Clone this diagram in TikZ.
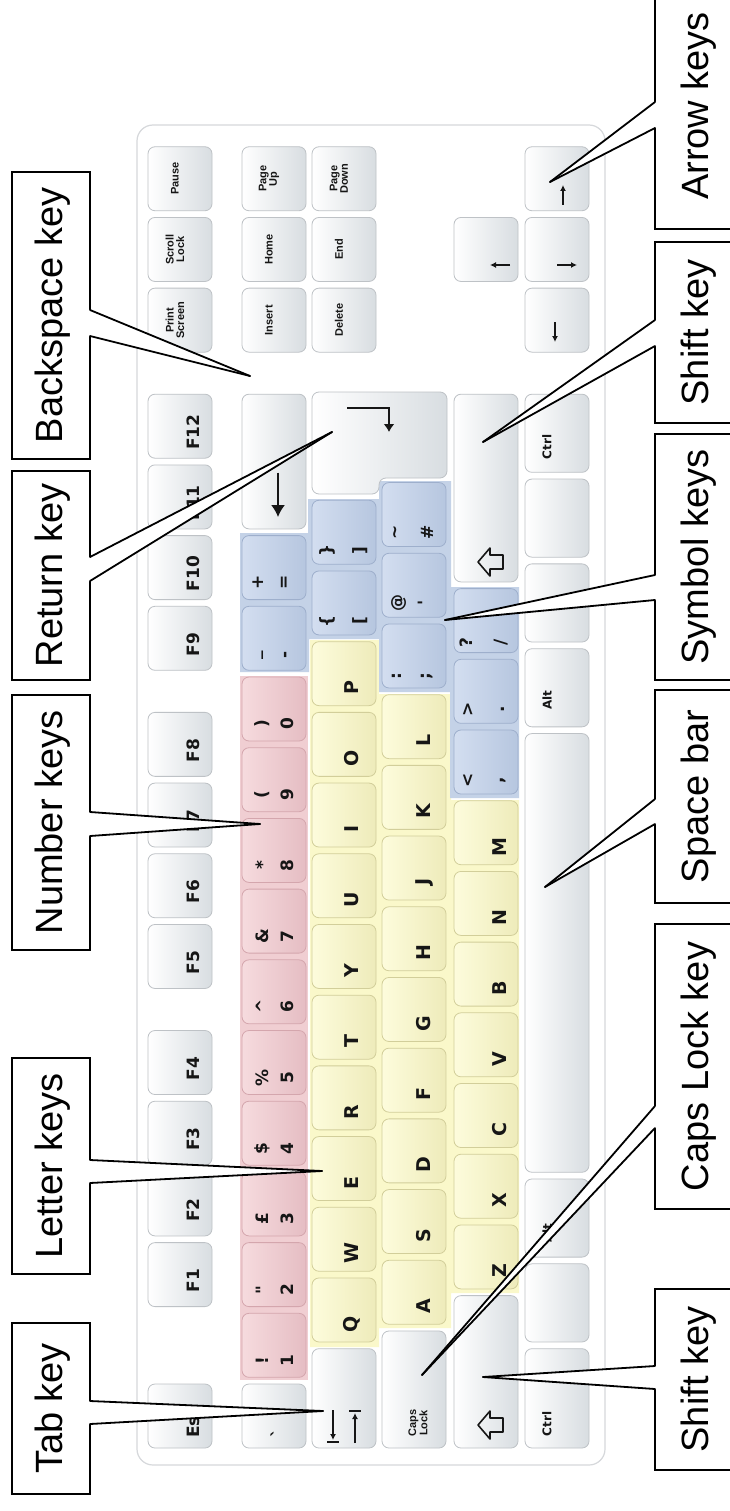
\documentclass[tikz,border=0pt]{standalone}
\usepackage{fontspec}
\setmainfont{Liberation Sans}
\newfontfamily\keyfont{DejaVu Sans}
\usetikzlibrary{arrows.meta}
\definecolor{keyborder}{RGB}{190,194,198}
\definecolor{keygray}{RGB}{216,221,225}
\definecolor{pinkbg}{RGB}{240,206,210}
\definecolor{pinkL}{RGB}{246,219,222}
\definecolor{pinkR}{RGB}{229,189,195}
\definecolor{pinkborder}{RGB}{212,166,173}
\definecolor{yellowbg}{RGB}{250,248,202}
\definecolor{yellowL}{RGB}{253,252,220}
\definecolor{yellowR}{RGB}{238,235,186}
\definecolor{yellowborder}{RGB}{210,206,154}
\definecolor{bluebg}{RGB}{196,210,231}
\definecolor{blueL}{RGB}{211,222,240}
\definecolor{blueR}{RGB}{182,198,223}
\definecolor{blueborder}{RGB}{158,175,204}
\definecolor{kbline}{RGB}{214,216,219}
\definecolor{keytext}{RGB}{22,22,22}
% key: name, row-left x, unit position, width in units, style
\newcommand\K[5]{%
  \pgfmathsetmacro\kcy{1451.35-70.7*(#3+#4/2)}%
  \pgfmathsetmacro\kh{70.7*#4-6.7}%
  \node[#5, minimum height=\kh pt] (#1) at (#2+32,\kcy) {};}
\newcommand\FK[3]{\K{#1}{148}{#2}{1}{kW}\node[flab] (#1t) at (193,\kcy+6) {#3};}
\newcommand\NV[4]{\K{#1}{#2}{#3}{1}{kW}\node[navlab] (#1t) at (#2+27,\kcy) {#4};}
\newcommand\LK[6]{\K{#1}{#2}{#3}{1}{#5}\pgfmathsetmacro\ky{1448-70.7*#3-18}\node[letlab] (#1t) at (#2+#6,\ky) {#4};}
\newcommand\TK[9]{\K{#1}{#2}{#3}{1}{#9}\pgfmathsetmacro\ky{1448-70.7*#3-#8}\node[symlab] (#1a) at (#2+#6,\ky) {#4};\node[symlab] (#1b) at (#2+#7,\ky) {#5};}
\newcommand\calloutwedge[4]{%
  \fill[white] (#1) -- (#3) -- (#2) -- ([xshift=#4]#2) -- ([xshift=#4]#1) -- cycle;
  \draw[cline] (#1) -- (#3);
  \draw[cline] (#2) -- (#3);}
\newcommand\shifticon[2]{\draw[icon] (#1-12,#2) -- (#1,#2-14) -- (#1,#2-7) -- (#1+13,#2-7) -- (#1+13,#2+7) -- (#1,#2+7) -- (#1,#2+14) -- cycle;}
\begin{document}
\begin{tikzpicture}[x=1pt,y=-1pt,
  kbase/.style={rounded corners=7pt, minimum width=64pt, inner sep=0pt, line width=0.8pt},
  kW/.style={kbase, draw=keyborder, left color=white, right color=keygray},
  kP/.style={kbase, draw=pinkborder, left color=pinkL, right color=pinkR},
  kY/.style={kbase, draw=yellowborder, left color=yellowL, right color=yellowR},
  kB/.style={kbase, draw=blueborder, left color=blueL, right color=blueR},
  klab/.style={rotate=90, inner sep=0pt, text=keytext, font=\keyfont\bfseries\fontsize{17}{17}\selectfont},
  flab/.style={klab},
  letlab/.style={klab, font=\keyfont\bfseries\fontsize{19}{19}\selectfont},
  symlab/.style={klab, font=\keyfont\bfseries\fontsize{17}{17}\selectfont},
  navlab/.style={klab, align=center, font=\bfseries\fontsize{11}{10.5}\selectfont},
  capslab/.style={klab, align=center, font=\bfseries\fontsize{11}{9}\selectfont},
  modlab/.style={klab, font=\keyfont\bfseries\fontsize{12}{12}\selectfont},
  icon/.style={line width=1.6pt, draw=keytext, line join=round},
  arr/.style={line width=1.5pt, draw=keytext, -{Latex[length=6pt,width=6pt]}},
  lbox/.style={draw=black, line width=1.8pt, fill=white, inner sep=0pt, minimum width=78pt},
  rbox/.style={draw=black, line width=1.8pt, fill=white, inner sep=0pt, minimum width=90pt},
  ltext/.style={rotate=90, anchor=base, inner sep=0pt, font=\fontsize{38}{38}\selectfont},
  cline/.style={line width=1.8pt, draw=black, line cap=round},
]
\useasboundingbox (0,0) rectangle (730,1511);
\fill[white] (0,0) rectangle (730,1511);
% keyboard body
\draw[kbline, line width=1.2pt, fill=white, rounded corners=16pt] (137,125) rectangle (605,1465);
% coloured groups
\fill[pinkbg] (240,676) rectangle (308,1380);
\fill[yellowbg] (310,640) rectangle (379,1347) (378,694) rectangle (451,1328) (450,800) rectangle (519,1293);
\fill[bluebg] (240,533) rectangle (309,672) (308,499) rectangle (380,639) (379,481) rectangle (451,692) (450,587) rectangle (519,798);
% function row
\FK{kEsc}{0}{Esc}
\FK{kF1}{2}{F1}\FK{kF2}{3}{F2}\FK{kF3}{4}{F3}\FK{kF4}{5}{F4}
\FK{kF5}{6.5}{F5}\FK{kF6}{7.5}{F6}\FK{kF7}{8.5}{F7}\FK{kF8}{9.5}{F8}
\FK{kF9}{11}{F9}\FK{kF10}{12}{F10}\FK{kF11}{13}{F11}\FK{kF12}{14}{F12}
\NV{kPrt}{148}{15.5}{Print\\Screen}\NV{kScr}{148}{16.5}{Scroll\\Lock}\NV{kPau}{148}{17.5}{Pause}
% number row
\K{kGrave}{242}{0}{1}{kW}\node[symlab] (kGravet) at (278,1433) {\textasciigrave};
\TK{k1}{242}{1}{!}{1}{20}{45}{17}{kP}
\TK{k2}{242}{2}{"}{2}{20}{45}{17}{kP}
\TK{k3}{242}{3}{£}{3}{20}{45}{17}{kP}
\TK{k4}{242}{4}{\$}{4}{20}{45}{17}{kP}
\TK{k5}{242}{5}{\%}{5}{20}{45}{17}{kP}
\TK{k6}{242}{6}{\textasciicircum}{6}{20}{45}{17}{kP}
\TK{k7}{242}{7}{\&}{7}{20}{45}{17}{kP}
\TK{k8}{242}{8}{*}{8}{20}{45}{17}{kP}
\TK{k9}{242}{9}{(}{9}{20}{45}{17}{kP}
\TK{k0}{242}{10}{)}{0}{20}{45}{17}{kP}
\TK{kMinus}{242}{11}{\_}{-}{20}{45}{15}{kB}
\TK{kEq}{242}{12}{+}{=}{16}{43}{17}{kB}
\K{kBack}{242}{13}{2}{kW}
\draw[line width=1.6pt, draw=keytext, -{Latex[length=12pt,width=14pt]}] (kBack.center) ++(4,11) -- (278,517);
\NV{kIns}{242}{15.5}{Insert}\NV{kHome}{242}{16.5}{Home}\NV{kPgUp}{242}{17.5}{Page\\Up}
% qwerty row
\K{kTab}{312}{0}{1.5}{kW}
\draw[line width=1.3pt, draw=keytext, -{Latex[length=6pt,width=6pt]}] (333,1410) -- (333,1440);
\draw[line width=1.3pt, draw=keytext] (327,1442) -- (339,1442);
\draw[line width=1.3pt, draw=keytext, -{Latex[length=6pt,width=6pt]}] (355,1443) -- (355,1413);
\draw[line width=1.3pt, draw=keytext] (349,1411) -- (361,1411);
\LK{kQ}{312}{1.5}{Q}{kY}{40}\LK{kW}{312}{2.5}{W}{kY}{40}\LK{kE}{312}{3.5}{E}{kY}{40}
\LK{kR}{312}{4.5}{R}{kY}{40}\LK{kT}{312}{5.5}{T}{kY}{40}\LK{kYy}{312}{6.5}{Y}{kY}{40}
\LK{kU}{312}{7.5}{U}{kY}{40}\LK{kI}{312}{8.5}{I}{kY}{40}\LK{kO}{312}{9.5}{O}{kY}{40}
\LK{kPp}{312}{10.5}{P}{kY}{40}
\TK{kLbr}{312}{11.5}{\{}{[}{15}{48}{14}{kB}
\TK{kRbr}{312}{12.5}{\}}{]}{15}{48}{14}{kB}
\path[draw=keyborder, line width=0.8pt, left color=white, right color=keygray, rounded corners=7pt]
  (312,392) -- (447,392) -- (447,478) -- (379,478) -- (379,494) -- (312,494) -- cycle;
\node[inner sep=0pt] (kRet) at (380,443) {};
\draw[line width=1.6pt, draw=keytext, -{Latex[length=8pt,width=11pt]}] (347,408) -- (389,408) -- (389,432);
\NV{kDel}{312}{15.5}{Delete}\NV{kEnd}{312}{16.5}{End}\NV{kPgDn}{312}{17.5}{Page\\Down}
% home row
\K{kCaps}{382}{0}{1.75}{kW}\node[capslab] (kCapst) at (418,1423) {Caps\\Lock};
\LK{kA}{382}{1.75}{A}{kY}{42}\LK{kS}{382}{2.75}{S}{kY}{42}\LK{kD}{382}{3.75}{D}{kY}{42}
\LK{kF}{382}{4.75}{F}{kY}{42}\LK{kG}{382}{5.75}{G}{kY}{42}\LK{kH}{382}{6.75}{H}{kY}{42}
\LK{kJ}{382}{7.75}{J}{kY}{42}\LK{kK}{382}{8.75}{K}{kY}{42}\LK{kL}{382}{9.75}{L}{kY}{42}
\TK{kSemi}{382}{10.75}{:}{;}{15}{45}{12}{kB}
\TK{kQuote}{382}{11.75}{@}{'}{17}{42}{14}{kB}
\TK{kHash}{382}{12.75}{\textasciitilde}{\#}{15}{45}{14}{kB}
% shift row
\K{kLShift}{454}{0}{2.25}{kW}\shifticon{490}{1425}
\LK{kZ}{454}{2.25}{Z}{kY}{46}\LK{kX}{454}{3.25}{X}{kY}{46}\LK{kC}{454}{4.25}{C}{kY}{46}
\LK{kV}{454}{5.25}{V}{kY}{46}\LK{kBb}{454}{6.25}{B}{kY}{46}\LK{kN}{454}{7.25}{N}{kY}{46}
\LK{kM}{454}{8.25}{M}{kY}{46}
\TK{kComma}{454}{9.25}{<}{,}{14}{49}{14}{kB}
\TK{kDot}{454}{10.25}{>}{.}{14}{49}{14}{kB}
\TK{kSlash}{454}{11.25}{?}{/}{12}{47}{10}{kB}
\K{kRShift}{454}{12.25}{2.75}{kW}\shifticon{490}{562}
\K{kUp}{454}{16.5}{1}{kW}\draw[arr] (510,265) -- (490,265);
% bottom row
\K{kLCtrl}{525}{0}{1.5}{kW}\node[modlab] (kLCtrlt) at (547,1424) {Ctrl};
\K{kLWin}{525}{1.5}{1.2}{kW}
\K{kLAlt}{525}{2.7}{1.2}{kW}\node[modlab] (kLAltt) at (547,1233) {Alt};
\K{kSpace}{525}{3.9}{6.3}{kW}
\K{kRAlt}{525}{10.2}{1.2}{kW}\node[modlab] (kRAltt) at (547,700) {Alt};
\K{kRWin}{525}{11.4}{1.2}{kW}
\K{kMenu}{525}{12.6}{1.2}{kW}
\K{kRCtrl}{525}{13.8}{1.2}{kW}\node[modlab] (kRCtrlt) at (547,447) {Ctrl};
\K{kLeft}{525}{15.5}{1}{kW}\draw[arr] (555,322) -- (555,342);
\K{kDown}{525}{16.5}{1}{kW}\draw[arr] (557,265) -- (577,265);
\K{kRight}{525}{17.5}{1}{kW}\draw[arr] (563,205) -- (563,185);
% ---------- callouts, left ----------
\node[lbox, minimum height=287pt] (bxBack) at (51,315.5) {};
\node[ltext] (txBack) at (62,315.5) {Backspace key};
\coordinate (aBack) at (90,310); \coordinate (bBack) at (90,336); \coordinate (tBack) at (250,376);
\calloutwedge{aBack}{bBack}{tBack}{-4pt}
\node[lbox, minimum height=209pt] (bxRet) at (51,575.5) {};
\node[ltext] (txRet) at (62,575.5) {Return key};
\coordinate (aRet) at (90,557); \coordinate (bRet) at (90,581); \coordinate (tRet) at (332,432);
\calloutwedge{aRet}{bRet}{tRet}{-4pt}
\node[lbox, minimum height=255pt] (bxNum) at (51,822.5) {};
\node[ltext] (txNum) at (62,822.5) {Number keys};
\coordinate (aNum) at (90,812); \coordinate (bNum) at (90,836); \coordinate (tNum) at (260,824);
\calloutwedge{aNum}{bNum}{tNum}{-4pt}
\node[lbox, minimum height=216pt] (bxLet) at (51,1166) {};
\node[ltext] (txLet) at (62,1166) {Letter keys};
\coordinate (aLet) at (90,1160); \coordinate (bLet) at (90,1183); \coordinate (tLet) at (322,1171);
\calloutwedge{aLet}{bLet}{tLet}{-4pt}
\node[lbox, minimum height=171pt] (bxTab) at (51,1408.5) {};
\node[ltext] (txTab) at (62,1408.5) {Tab key};
\coordinate (aTab) at (90,1401); \coordinate (bTab) at (90,1424); \coordinate (tTab) at (323,1411);
\calloutwedge{aTab}{bTab}{tTab}{-4pt}
% ---------- callouts, right ----------
\node[rbox, minimum height=259pt] (bxArr) at (700,99.5) {};
\node[ltext] (txArr) at (708,106) {Arrow keys};
\coordinate (aArr) at (655,102); \coordinate (bArr) at (655,128); \coordinate (tArr) at (550,182);
\calloutwedge{aArr}{bArr}{tArr}{4pt}
\node[rbox, minimum height=181pt] (bxSh1) at (700,332.5) {};
\node[ltext] (txSh1) at (708,332.5) {Shift key};
\coordinate (aSh1) at (655,320); \coordinate (bSh1) at (655,346); \coordinate (tSh1) at (483,442);
\calloutwedge{aSh1}{bSh1}{tSh1}{4pt}
\node[rbox, minimum height=246pt] (bxSym) at (700,557) {};
\node[ltext] (txSym) at (708,557) {Symbol keys};
\coordinate (aSym) at (655,575); \coordinate (bSym) at (655,600); \coordinate (tSym) at (445,620);
\calloutwedge{aSym}{bSym}{tSym}{4pt}
\node[rbox, minimum height=213pt] (bxSpc) at (700,796.5) {};
\node[ltext] (txSpc) at (708,796.5) {Space bar};
\coordinate (aSpc) at (655,799); \coordinate (bSpc) at (655,824); \coordinate (tSpc) at (545,887);
\calloutwedge{aSpc}{bSpc}{tSpc}{4pt}
\node[rbox, minimum height=285pt] (bxCap) at (700,1066.5) {};
\node[ltext] (txCap) at (708,1066.5) {Caps Lock key};
\coordinate (aCap) at (655,1106); \coordinate (bCap) at (655,1128); \coordinate (tCap) at (422,1375);
\calloutwedge{aCap}{bCap}{tCap}{4pt}
\node[rbox, minimum height=181pt] (bxSh2) at (700,1379.5) {};
\node[ltext] (txSh2) at (708,1379.5) {Shift key};
\coordinate (aSh2) at (655,1366); \coordinate (bSh2) at (655,1389); \coordinate (tSh2) at (483,1377);
\calloutwedge{aSh2}{bSh2}{tSh2}{4pt}
\end{tikzpicture}
\end{document}
